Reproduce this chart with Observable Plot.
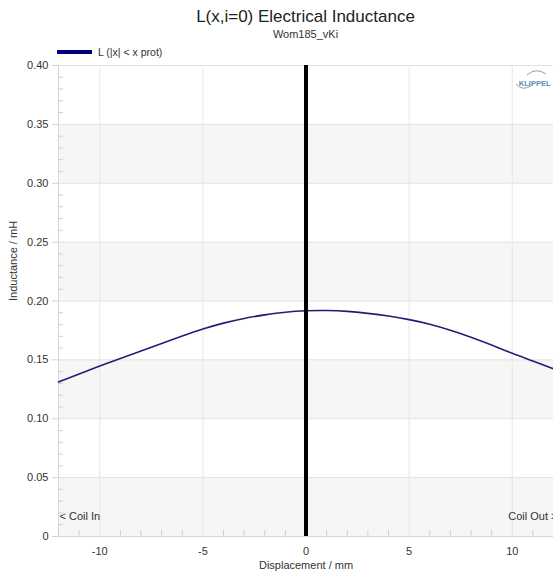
<!DOCTYPE html>
<html>
<head>
<meta charset="utf-8">
<script src="https://cdn.jsdelivr.net/npm/d3@7"></script>
<script src="https://cdn.jsdelivr.net/npm/@observablehq/plot@0.6"></script>
<style>
  html, body { margin: 0; padding: 0; background: #fff; overflow: hidden; }
  #wrap { position: relative; width: 553px; height: 578px; font-family: "Liberation Sans", Arial, sans-serif; overflow: hidden; }
  #title { position: absolute; left: 58px; width: 495px; top: 7px; text-align: center; font-size: 17px; color: #222; z-index: 2; }
  #subtitle { position: absolute; left: 58px; width: 495px; top: 28px; text-align: center; font-size: 11px; color: #333; z-index: 2; }
  #legend { position: absolute; left: 57px; top: 46px; font-size: 10.5px; color: #333; display: flex; align-items: center; z-index: 2; }
  #legend .sw { width: 35px; height: 4px; background: #00007a; margin-right: 6px; }
  #chart { position: absolute; left: 0; top: 55px; z-index: 1; }
  #logo { position: absolute; left: 510px; top: 66px; z-index: 2; }
</style>
</head>
<body>
<div id="wrap">
  <div id="title">L(x,i=0) Electrical Inductance</div>
  <div id="subtitle">Wom185_vKi</div>
  <div id="legend"><span class="sw"></span><span>L (|x| &lt; x prot)</span></div>
  <div id="chart"></div>
</div>
<script>
// Displacement (mm)
const displacement = [-12,-11,-10,-9,-8,-7,-6,-5,-4,-3,-2,-1,0,1,2,3,4,5,6,7,8,9,10,11,12];
// Inductance L(x, i=0) in mH
const inductance = [0.1312,0.1380,0.1447,0.1512,0.1576,0.1640,0.1703,0.1762,0.1812,0.1852,0.1882,0.1905,0.1917,0.1919,0.1912,0.1895,0.1872,0.1842,0.1803,0.1752,0.1693,0.1626,0.1556,0.1490,0.1424];

const xMajorTicks = [-10, -5, 0, 5, 10];
const xMinorTicks = [-12,-11,-9,-8,-7,-6,-4,-3,-2,-1,1,2,3,4,6,7,8,9,11,12];
const yMajorTicks = [0, 0.05, 0.10, 0.15, 0.20, 0.25, 0.30, 0.35, 0.40];
const yMinorTicks = d3.range(1, 40).map(i => i / 100).filter(v => Math.round(v * 100) % 5 !== 0);
const shadedBands = [[0, 0.05], [0.10, 0.15], [0.20, 0.25], [0.30, 0.35]];

const data = displacement.map((x, i) => ({x, L: inductance[i]}));

const chart = Plot.plot({
  width: 553,
  height: 523,
  marginTop: 10,
  marginBottom: 42,
  marginLeft: 58,
  marginRight: 0,
  style: {fontFamily: "Liberation Sans, Arial, sans-serif", fontSize: "11px", color: "#333", overflow: "visible", background: "transparent"},
  x: {domain: [-12, 12], label: null},
  y: {domain: [0, 0.4], label: null},
  marks: [
    Plot.rect(shadedBands, {y1: d => d[0], y2: d => d[1], fill: "#f6f6f6"}),
    Plot.gridY(yMajorTicks, {stroke: "#e2e2e2", strokeOpacity: 1}),
    Plot.gridX(xMajorTicks, {stroke: "#e6e6e6", strokeOpacity: 1}),
    Plot.ruleY([0], {stroke: "#d8d8d8"}),
    Plot.ruleX([-12], {stroke: "#d8d8d8"}),
    Plot.axisY(yMajorTicks, {anchor: "left", tickSize: 6, tickPadding: 4, stroke: "#cfcfcf",
      tickFormat: d => d === 0 ? "0" : d.toFixed(2), fill: "#333", label: null}),
    Plot.axisY(yMinorTicks, {anchor: "left", tickSize: -5, stroke: "#cfcfcf", text: null, label: null}),
    Plot.axisX(xMajorTicks, {anchor: "bottom", tickSize: 0, tickPadding: 11, tickFormat: d => String(d), fill: "#333", label: null}),
    Plot.axisX(xMinorTicks, {anchor: "bottom", tickSize: -6, stroke: "#cfcfcf", text: null, label: null}),
    Plot.line(data, {x: "x", y: "L", stroke: "#1f1f7a", strokeWidth: 1.6, curve: "natural"}),
    Plot.ruleX([0], {stroke: "#000", strokeWidth: 4}),
    Plot.text(["Inductance / mH"], {text: d => d, frameAnchor: "left", rotate: -90, dx: -45, fill: "#333", fontSize: 11}),
    Plot.text(["Displacement / mm"], {text: d => d, frameAnchor: "bottom", dy: 32, fill: "#333", fontSize: 11}),
    Plot.text(["< Coil In"], {text: d => d, frameAnchor: "bottom-left", textAnchor: "start", dx: 1, dy: -17, fill: "#333", fontSize: 11}),
    Plot.text(["Coil Out >"], {text: d => d, frameAnchor: "bottom-right", textAnchor: "end", dx: 4, dy: -17, fill: "#333", fontSize: 11}),
    Plot.text(["KLIPPEL"], {text: d => d, frameAnchor: "top-right", textAnchor: "end", dx: -3, dy: 15, fill: "#5a8cb5", fontSize: 7.5, fontWeight: "bold"})
  ]
});
document.getElementById("chart").appendChild(chart);

// small logo arcs
const ns = "http://www.w3.org/2000/svg";
const logo = document.createElementNS(ns, "svg");
logo.setAttribute("id", "logo");
logo.setAttribute("width", "43");
logo.setAttribute("height", "26");
logo.innerHTML = '<path d="M17,9 Q26,1 36,8" fill="none" stroke="#8aa0b0" stroke-width="1"/><path d="M6,18 Q13,26 22,19" fill="none" stroke="#8aa0b0" stroke-width="1"/>';
document.getElementById("wrap").appendChild(logo);
</script>
</body>
</html>
